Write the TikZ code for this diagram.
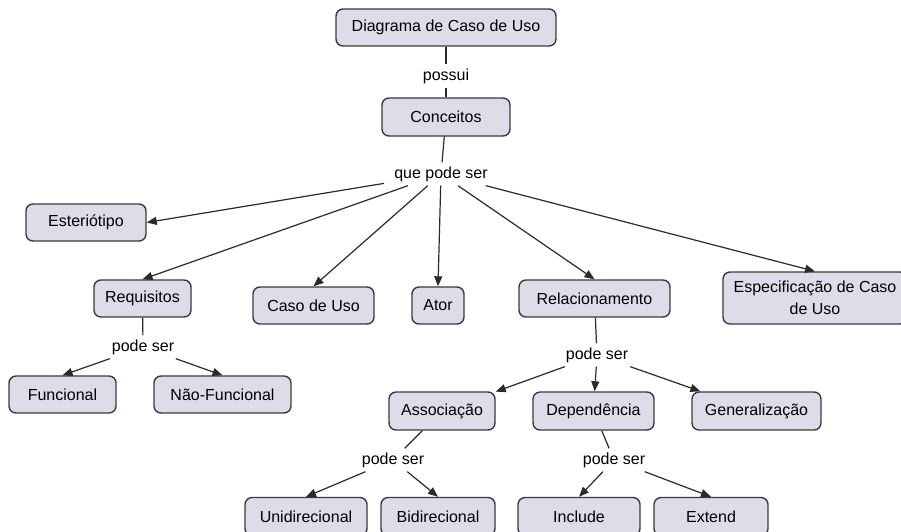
\documentclass[tikz,border=0pt]{standalone}
\usepackage{fontspec}
\setmainfont{Liberation Sans}
\usetikzlibrary{arrows.meta}
\definecolor{boxfill}{HTML}{DDDDEA}
\definecolor{boxline}{HTML}{3A3A3A}
\definecolor{lnk}{HTML}{2A2A2A}
\begin{document}
\begin{tikzpicture}[x=1pt,y=-1pt,
  concept/.style={draw=boxline,fill=boxfill,line width=1.4pt,rounded corners=7pt,
    font=\fontsize{16}{18}\selectfont,inner sep=2pt,align=center},
  lbl/.style={font=\fontsize{16}{18}\selectfont,inner sep=4pt,fill=white},
  link/.style={draw=lnk,line width=1.2pt},
  arr/.style={link,-{Triangle[length=10pt,width=8pt]}}]
\useasboundingbox (0,0) rectangle (901,531);
% concepts
\node[concept,minimum width=220pt,minimum height=37pt] (diag) at (446,27.5) {Diagrama de Caso de Uso};
\node[concept,minimum width=128pt,minimum height=38pt] (conc) at (446,117) {Conceitos};
\node[concept,minimum width=120pt,minimum height=37pt] (este) at (86,222.5) {Esteriótipo};
\node[concept,minimum width=97pt,minimum height=37pt] (req) at (142.5,298.5) {Requisitos};
\node[concept,minimum width=121pt,minimum height=37pt] (caso) at (313.5,305.5) {Caso de Uso};
\node[concept,minimum width=52pt,minimum height=37pt] (ator) at (438,305.5) {Ator};
\node[concept,minimum width=184pt,minimum height=52pt] (esp) at (815,298) {Especificação de Caso\\[4pt]de Uso};
\node[concept,minimum width=151pt,minimum height=37pt] (rel) at (594.5,298.5) {Relacionamento};
\node[concept,minimum width=107pt,minimum height=37pt] (func) at (62.5,394.5) {Funcional};
\node[concept,minimum width=137pt,minimum height=37pt] (nfunc) at (222.5,394.5) {Não-Funcional};
\node[concept,minimum width=106pt,minimum height=38pt] (assoc) at (442,411) {Associação};
\node[concept,minimum width=121pt,minimum height=38pt] (dep) at (593.5,411) {Dependência};
\node[concept,minimum width=129pt,minimum height=38pt] (gen) at (756.5,411) {Generalização};
\node[concept,minimum width=122pt,minimum height=38pt] (uni) at (306,516.5) {Unidirecional};
\node[concept,minimum width=114pt,minimum height=38pt] (bi) at (438,516.5) {Bidirecional};
\node[concept,minimum width=122pt,minimum height=38pt] (inc) at (579,516.5) {Include};
\node[concept,minimum width=114pt,minimum height=38pt] (ext) at (711,516.5) {Extend};
% linking phrases
\node[lbl] (l1) at (446,76) {possui};
\node[lbl,inner xsep=10pt] (l2) at (441,174) {que pode ser};
\node[lbl] (l3) at (143,347) {pode ser};
\node[lbl] (l4) at (597,355) {pode ser};
\node[lbl] (l5) at (393,460) {pode ser};
\node[lbl] (l6) at (614,460) {pode ser};
% connectors
\draw[link] (diag) -- (l1);
\draw[link] (l1) -- (conc);
\draw[link] (conc) -- (l2);
\draw[arr] (l2) -- (este.east);
\draw[arr] (l2) -- (req.north);
\draw[arr] (l2) -- (caso.north);
\draw[arr] (l2) -- (ator.north);
\draw[arr] (l2) -- (rel.north);
\draw[arr] (l2) -- (esp.north);
\draw[link] (req) -- (l3);
\draw[arr] (l3) -- (func.north);
\draw[arr] (l3) -- (nfunc.north);
\draw[link] (rel) -- (l4);
\draw[arr] (l4) -- (assoc);
\draw[arr] (l4) -- (dep);
\draw[arr] (l4) -- (gen);
\draw[link] (assoc) -- (l5);
\draw[arr] (l5) -- (uni.north);
\draw[arr] (l5) -- (bi.north);
\draw[link] (dep) -- (l6);
\draw[arr] (l6) -- (inc.north);
\draw[arr] (l6) -- (ext.north);
\end{tikzpicture}
\end{document}
